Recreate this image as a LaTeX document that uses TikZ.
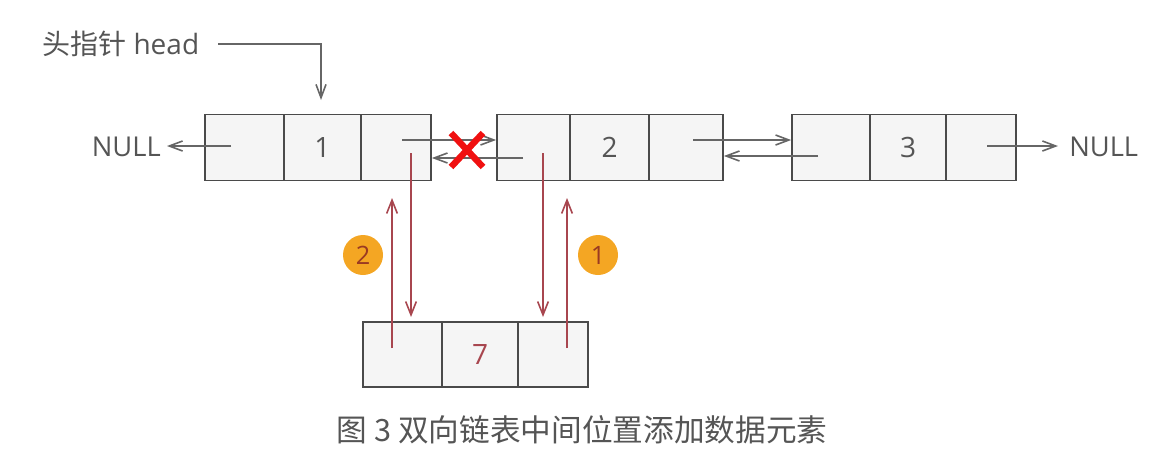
\documentclass[tikz,border=0pt]{standalone}
\usepackage{fontspec}
\setmainfont{Open Sans}
\newfontfamily\cjk{Noto Sans CJK SC}
\usetikzlibrary{arrows.meta}
\definecolor{boxfill}{HTML}{F5F5F5}
\definecolor{boxline}{HTML}{4A4A4A}
\definecolor{arrgray}{HTML}{666666}
\definecolor{txtgray}{HTML}{555555}
\definecolor{arrred}{HTML}{A8464F}
\definecolor{badge}{HTML}{F4A623}
\definecolor{badgetxt}{HTML}{9A3A22}
\definecolor{crossred}{HTML}{F01010}
\tikzset{
  cellbox/.style={draw=boxline, fill=boxfill, line width=1.3pt, inner sep=0pt,
    minimum height=49.5pt, font=\fontsize{21}{24}\selectfont, text=txtgray},
  grayarrow/.style={draw=arrgray, line width=1.2pt, -{Straight Barb[length=10pt,width=7.5pt,line width=1.2pt]}},
  redarrow/.style={draw=arrred, line width=1.2pt, -{Straight Barb[length=10pt,width=8pt,line width=1.2pt]}},
  nulltext/.style={font=\fontsize{20.5}{24}\selectfont, text=txtgray, inner sep=0pt},
  badgenode/.style={circle, fill=badge, minimum size=30pt, inner sep=0pt,
    font=\fontsize{19}{22}\selectfont, text=badgetxt},
  crossline/.style={draw=crossred, line width=4.8pt}
}
\begin{document}
\begin{tikzpicture}[x=0.75pt,y=-0.75pt]
\useasboundingbox (0,0) rectangle (1174,455);
% node 1
\node[cellbox, minimum width=59.25pt] (c1a) at (244.5,147.5) {};
\node[cellbox, minimum width=57.75pt] (c1b) at (322.5,147.5) {1};
\node[cellbox, minimum width=52.5pt] (c1c) at (396,147.5) {};
% node 2
\node[cellbox, minimum width=54.75pt] (c2a) at (533.5,147.5) {};
\node[cellbox, minimum width=59.25pt] (c2b) at (609.5,147.5) {2};
\node[cellbox, minimum width=55.5pt] (c2c) at (686,147.5) {};
% node 3
\node[cellbox, minimum width=58.5pt] (c3a) at (831,147.5) {};
\node[cellbox, minimum width=57pt] (c3b) at (908,147.5) {3};
\node[cellbox, minimum width=52.5pt] (c3c) at (981,147.5) {};
% node 7
\node[cellbox, minimum width=59.25pt, minimum height=48.75pt] (c7a) at (402.5,354.5) {};
\node[cellbox, minimum width=57pt, minimum height=48.75pt, text=arrred] (c7b) at (480,354.5) {7};
\node[cellbox, minimum width=52.5pt, minimum height=48.75pt] (c7c) at (553,354.5) {};
% texts
\node[anchor=west, inner sep=0pt, text=txtgray, font=\fontsize{21}{24}\selectfont] (head) at (42,44) {{\cjk 头指针} head};
\node[nulltext, anchor=east] (nullL) at (161,147) {NULL};
\node[nulltext, anchor=west] (nullR) at (1069,147) {NULL};
\node[text=txtgray, font=\cjk\fontsize{23}{27}\selectfont, inner sep=0pt] (cap) at (582,430) {图 3 双向链表中间位置添加数据元素};
% coordinates
\coordinate (hs) at (218,44);
\coordinate (he) at (321,100);
\coordinate (n1p) at (231,146);
\coordinate (n1pe) at (167,146);
\coordinate (n1n) at (402,140);
\coordinate (n2p) at (523,158);
\coordinate (n2n) at (693,140);
\coordinate (n3p) at (818,156);
\coordinate (n3n) at (987,146);
\coordinate (n3ne) at (1058,146);
\coordinate (r1s) at (411,153);
\coordinate (r1e) at (411,317);
\coordinate (r2s) at (392,348);
\coordinate (r2e) at (392,198);
\coordinate (r3s) at (543,153);
\coordinate (r3e) at (543,317);
\coordinate (r4s) at (567,348);
\coordinate (r4e) at (567,198);
% gray arrows
\draw[grayarrow] (hs) -| (he);
\draw[grayarrow] (n1p) -- (n1pe);
\draw[grayarrow] (n1n) -- (c2a.west |- n1n);
\draw[grayarrow] (n2p) -- (c1c.east |- n2p);
\draw[grayarrow] (n2n) -- (c3a.west |- n2n);
\draw[grayarrow] (n3p) -- (c2c.east |- n3p);
\draw[grayarrow] (n3n) -- (n3ne);
% red arrows
\draw[redarrow] (r1s) -- (r1e);
\draw[redarrow] (r2s) -- (r2e);
\draw[redarrow] (r3s) -- (r3e);
\draw[redarrow] (r4s) -- (r4e);
% badges
\node[badgenode] (b2) at (363,255) {2};
\node[badgenode] (b1) at (598,255) {1};
% cross
\coordinate (xa) at (451,133);
\coordinate (xb) at (483,167);
\coordinate (xc) at (451,167);
\coordinate (xd) at (483,133);
\draw[crossline] (xa) -- (xb);
\draw[crossline] (xc) -- (xd);
\end{tikzpicture}
\end{document}
